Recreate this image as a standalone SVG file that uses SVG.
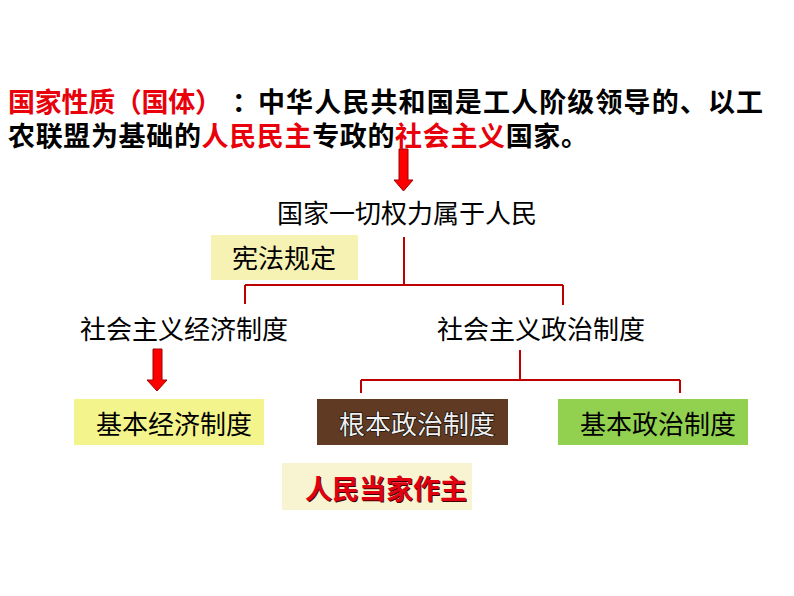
<svg xmlns="http://www.w3.org/2000/svg" width="794" height="596" viewBox="0 0 794 596">
<style>
.t{font-family:"Liberation Sans","Noto Sans CJK SC",sans-serif;font-size:26px;fill:#000}
.b{font-family:"Noto Sans CJK SC","Liberation Sans",sans-serif;font-weight:bold;font-size:27px}
.r{fill:#e8000b}
.ln{stroke:#c00000;stroke-width:2;fill:none}
.arr{fill:#ff0000;stroke:#a00000;stroke-width:1}
</style>
<rect x="0" y="0" width="794" height="596" fill="#ffffff"/>
<g id="title">
<text class="t b r" x="8" y="112" textLength="214" lengthAdjust="spacing">国家性质（国体）</text>
<text class="t b" x="232" y="112">：</text>
<text class="t b" x="258" y="112" textLength="505" lengthAdjust="spacing">中华人民共和国是工人阶级领导的、以工</text>
<text class="t b" x="8" y="146" textLength="580" lengthAdjust="spacing">农联盟为基础的<tspan class="r">人民民主</tspan>专政的<tspan class="r">社会主义</tspan>国家。</text>
</g>
<g id="connectors">
<path class="arr" d="M399,149 H408 V180 H413 L403.5,191 L394,180 H399 Z"/>
<path class="arr" d="M153,349 H162 V380 H167 L157,391 L147,380 H153 Z"/>
<path class="ln" d="M404,237 V285 M245,285 H563 M245,285 V304 M563,285 V305"/>
<path class="ln" d="M520,350 V380 M361,380 H680 M361,380 V393 M680,380 V393"/>
</g>
<g id="root">
<text class="t" x="277" y="223">国家一切权力属于人民</text>
</g>
<g id="xianfa">
<rect x="211" y="235" width="147" height="45" fill="#f6f2b4"/>
<text class="t" x="232" y="268">宪法规定</text>
</g>
<g id="econ">
<text class="t" x="80" y="339">社会主义经济制度</text>
</g>
<g id="polit">
<text class="t" x="437" y="339">社会主义政治制度</text>
</g>
<g id="jbjj">
<rect x="74" y="399" width="190" height="46" fill="#f4f48c"/>
<text class="t" x="96" y="434">基本经济制度</text>
</g>
<g id="gbzz">
<rect x="317" y="399" width="191" height="46" fill="#603a22"/>
<text class="t" x="339" y="434" style="fill:#f0f0f0;stroke:#000;stroke-width:1.2;paint-order:stroke">根本政治制度</text>
</g>
<g id="jbzz">
<rect x="558" y="399" width="190" height="46" fill="#92d050"/>
<text class="t" x="580" y="434">基本政治制度</text>
</g>
<g id="rmdjzz">
<rect x="282" y="463" width="190" height="47" fill="#f8f4d2"/>
<text class="t b" x="306" y="500" style="fill:#400000">人民当家作主</text>
<text class="t b" x="305" y="499" style="fill:#e00010">人民当家作主</text>
</g>
</svg>
